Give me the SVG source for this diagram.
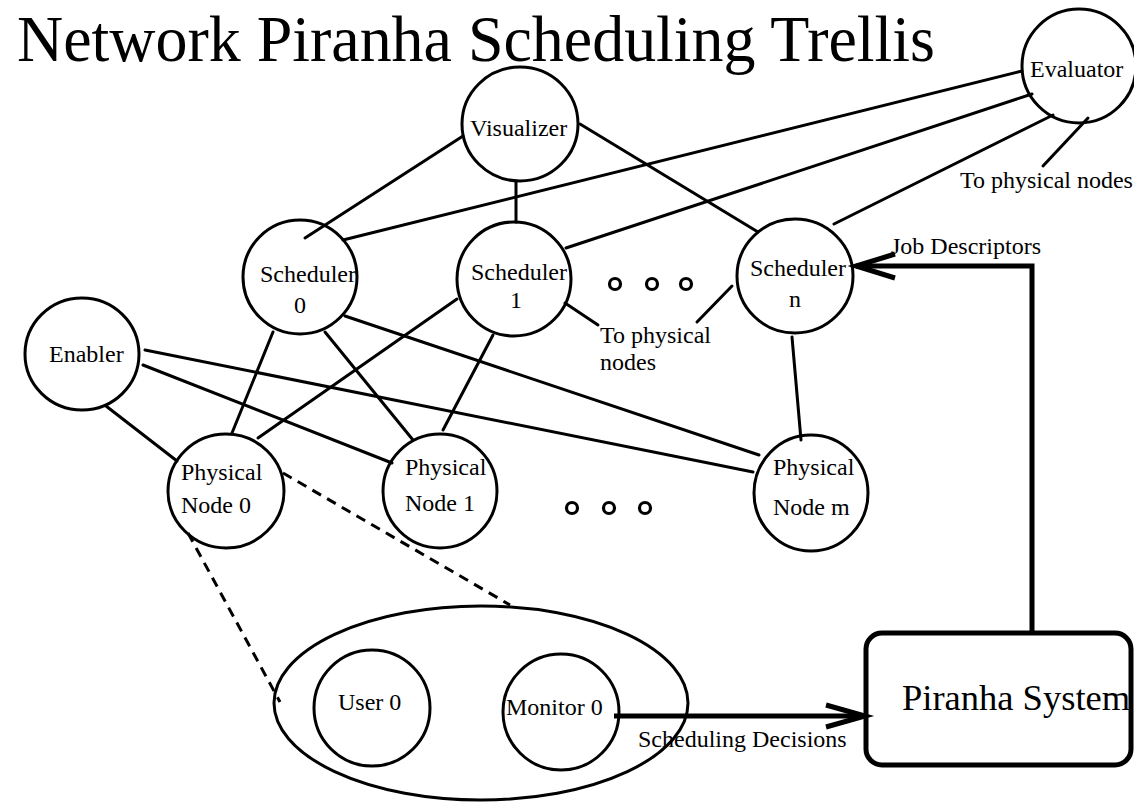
<svg xmlns="http://www.w3.org/2000/svg" width="1134" height="804" viewBox="0 0 1134 804">
<style>
.n{fill:none;stroke:#000;stroke-width:3}
.t{font-family:"Liberation Serif","Times New Roman",serif;font-size:24px;fill:#000}
.e{stroke:#000;stroke-width:3;fill:none;stroke-linecap:round}
.d{stroke:#000;stroke-width:3;fill:none;stroke-dasharray:10 7}
.k{stroke:#000;stroke-width:5;fill:none}
.dot{fill:none;stroke:#000;stroke-width:3.2}
</style>
<rect width="1134" height="804" fill="#fff"/>
<text x="17" y="61" font-family="Liberation Serif,serif" font-size="66" textLength="918" lengthAdjust="spacingAndGlyphs">Network Piranha Scheduling Trellis</text>
<g id="connectors">
<line class="e" x1="1022" y1="71" x2="343" y2="240"/>
<line class="e" x1="1032" y1="94" x2="566" y2="248"/>
<line class="e" x1="1053" y1="115" x2="834" y2="224"/>
<line class="e" x1="1088" y1="118" x2="1043" y2="166"/>
<line class="e" x1="463" y1="136" x2="305" y2="238"/>
<line class="e" x1="516" y1="182" x2="516" y2="222"/>
<line class="e" x1="580" y1="124" x2="758" y2="232"/>
<line class="e" x1="565" y1="303" x2="598" y2="325"/>
<line class="e" x1="732" y1="286" x2="697" y2="322"/>
<line class="e" x1="106" y1="406" x2="177" y2="461"/>
<line class="e" x1="145" y1="350" x2="753" y2="472"/>
<line class="e" x1="143" y1="365" x2="392" y2="463"/>
<line class="e" x1="273" y1="332" x2="232" y2="433"/>
<line class="e" x1="325" y1="332" x2="413" y2="440"/>
<line class="e" x1="345" y1="316" x2="759" y2="455"/>
<line class="e" x1="457" y1="299" x2="258" y2="438"/>
<line class="e" x1="493" y1="335" x2="443" y2="430"/>
<line class="e" x1="792" y1="337" x2="801" y2="440"/>
<line class="d" x1="188" y1="533" x2="280" y2="702"/>
<line class="d" x1="283" y1="473" x2="510" y2="605"/>
<polyline class="k" points="1032,633 1032,266 856,266"/>
<polyline class="k" points="895,254 856,266 895,278"/>
<line class="k" x1="614" y1="716" x2="864" y2="716"/>
<polyline class="k" points="826,705 865,716 826,727"/>
</g>
<g id="evaluator"><ellipse class="n" cx="1079" cy="66" rx="57" ry="57"/><text class="t" x="1030" y="77">Evaluator</text></g>
<text class="t" x="960" y="188">To physical nodes</text>
<g id="visualizer"><ellipse class="n" cx="520" cy="124" rx="58" ry="57"/><text class="t" x="470" y="136">Visualizer</text></g>
<g id="scheduler0"><ellipse class="n" cx="300" cy="277" rx="57" ry="57"/><text class="t" x="260" y="282">Scheduler</text><text class="t" x="294" y="313">0</text></g>
<g id="scheduler1"><ellipse class="n" cx="514" cy="279" rx="57" ry="57"/><text class="t" x="471" y="280">Scheduler</text><text class="t" x="510" y="308">1</text></g>
<g id="schedulern"><ellipse class="n" cx="795" cy="276" rx="58" ry="57"/><text class="t" x="750" y="276">Scheduler</text><text class="t" x="789" y="307">n</text></g>
<g id="sched-dots"><circle class="dot" cx="615" cy="284" r="5.5"/><circle class="dot" cx="652" cy="284" r="5.5"/><circle class="dot" cx="686" cy="284" r="5.5"/></g>
<text class="t" x="600" y="343">To physical</text>
<text class="t" x="600" y="370">nodes</text>
<text class="t" x="891" y="254">Job Descriptors</text>
<g id="enabler"><ellipse class="n" cx="82" cy="354" rx="57" ry="56"/><text class="t" x="49" y="362">Enabler</text></g>
<g id="physical0"><ellipse class="n" cx="226" cy="491" rx="58" ry="57"/><text class="t" x="181" y="480">Physical</text><text class="t" x="181" y="513">Node 0</text></g>
<g id="physical1"><ellipse class="n" cx="440" cy="491" rx="57" ry="57"/><text class="t" x="405" y="475">Physical</text><text class="t" x="405" y="511">Node 1</text></g>
<g id="physicalm"><ellipse class="n" cx="811" cy="493" rx="57" ry="58"/><text class="t" x="773" y="475">Physical</text><text class="t" x="773" y="515">Node m</text></g>
<g id="phys-dots"><circle class="dot" cx="572" cy="508" r="5.5"/><circle class="dot" cx="609" cy="508" r="5.5"/><circle class="dot" cx="645" cy="508" r="5.5"/></g>
<g id="node0-detail"><ellipse class="n" cx="481" cy="703" rx="207" ry="97"/></g>
<g id="user0"><ellipse class="n" cx="372" cy="708" rx="58" ry="58"/><text class="t" x="338" y="710">User 0</text></g>
<g id="monitor0"><ellipse class="n" cx="561" cy="712" rx="58" ry="58"/><text class="t" x="506" y="715">Monitor 0</text></g>
<text class="t" x="638" y="747">Scheduling Decisions</text>
<g id="piranha"><rect x="866" y="633" width="265" height="132" rx="16" fill="none" stroke="#000" stroke-width="5"/><text x="902" y="710" font-family="Liberation Serif,serif" font-size="36.5">Piranha System</text></g>
</svg>
